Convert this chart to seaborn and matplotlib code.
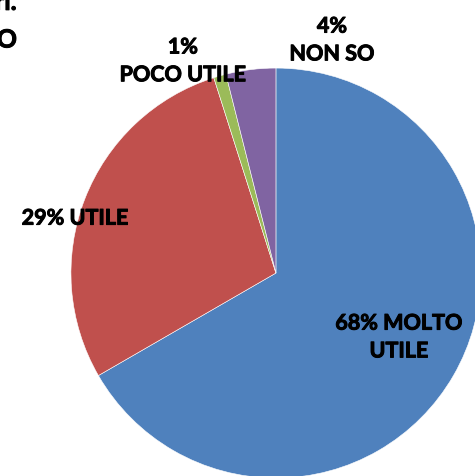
import matplotlib
matplotlib.use("Agg")
import matplotlib.pyplot as plt
import matplotlib.patheffects as pe
import seaborn as sns

# Survey answers (percentages as shown on the labels)
categories = ["MOLTO UTILE", "UTILE", "POCO UTILE", "NON SO"]
values = [68, 29, 1, 4]
colors = ["#4F81BD", "#C0504D", "#9BBB59", "#8064A2"]
label_texts = ["68% MOLTO\nUTILE", "29% UTILE", "1%\nPOCO UTILE", "4%\nNON SO"]

sns.set_theme(style="white")
plt.rcParams["font.family"] = ["Lato", "DejaVu Sans"]

fig = plt.figure(figsize=(4.75, 4.76), dpi=100)
ax = fig.add_axes([0, 0, 1, 1])

ax.pie(
    values,
    colors=colors,
    startangle=90,
    counterclock=False,
    radius=1.0,
    wedgeprops={"edgecolor": "white", "linewidth": 0.4},
)

# view window so the pie sits like in the original (clipped right and bottom)
ax.set_xlim(-1.346, 0.971)
ax.set_ylim(-0.990, 1.332)
ax.set_aspect("equal")
ax.axis("off")

thick = [pe.withStroke(linewidth=0.7, foreground="black")]

# data labels
label_pos = [(0.60, -0.312), (-0.98, 0.268), (-0.454, 1.035), (0.273, 1.137)]
for txt, (x, y) in zip(label_texts, label_pos):
    ax.text(x, y, txt, ha="center", va="center", fontsize=15.5,
            fontweight="bold", color="black", linespacing=1.4,
            path_effects=thick)

# title cut off at the left edge of the original
fig.text(0.036, 0.995, "incontri.", ha="right", va="center", fontsize=18,
         fontweight="bold", color="black", path_effects=thick)
fig.text(0.036, 0.916, "CORSO", ha="right", va="center", fontsize=18,
         fontweight="bold", color="black", path_effects=thick)

fig.savefig("out.png", dpi=100)
plt.close(fig)
